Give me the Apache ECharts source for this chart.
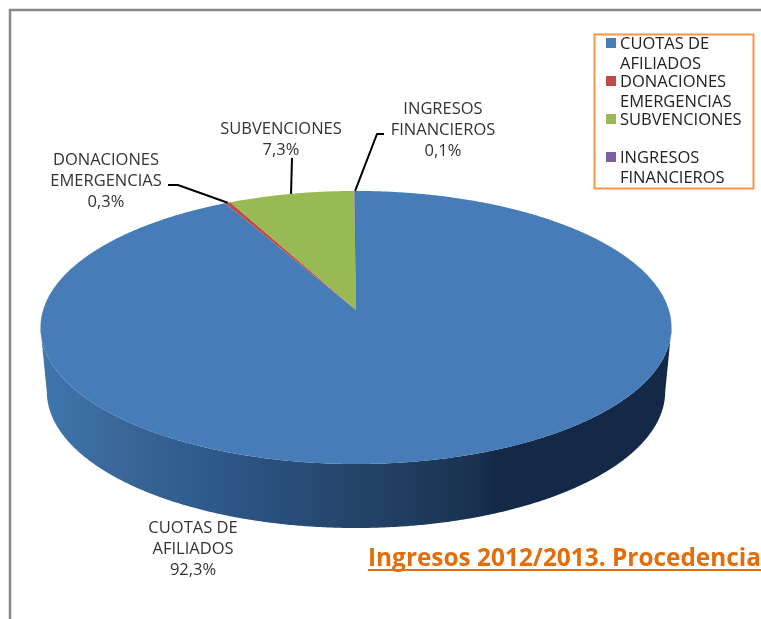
<!DOCTYPE html>
<html>
<head>
<meta charset="utf-8">
<title>Ingresos 2012/2013</title>
<script src="https://cdn.jsdelivr.net/npm/echarts@6/dist/echarts.min.js"></script>
<style>
html, body { margin: 0; padding: 0; background: #fff; overflow: hidden; }
#main { width: 761px; height: 619px; }
</style>
</head>
<body>
<div id="main"></div>
<script>
// datos (orden horario desde las 12)
var categories = ['CUOTAS DE\nAFILIADOS', 'DONACIONES\nEMERGENCIAS', 'SUBVENCIONES', 'INGRESOS\nFINANCIEROS'];
var values = [92.3, 0.3, 7.3, 0.1];
var colors = ['#467db8', '#be4b48', '#98b954', '#7d5fa0'];

var chartTitle = 'Ingresos 2012/2013. Procedencia';
var FONT = 'Open Sans';

// geometria de la tarta en perspectiva
var cx = 356, apexY = 310, A = 312.9, B = 134.3, k = 0.128;
var depth = 64, bottomScale = 0.98;
var silhouetteY = apexY + (B / (1 - k) - B / (1 + k)) / 2;

// posicion de etiquetas y lineas guia, por categoria
var labelPos = [[193, 549], [106, 181], [281, 140], [443, 130]];
var leaders = [
    null,
    [[168, 185], [178, 185]],
    [[292, 158]],
    [[384, 134], [377, 134]]
];

function rimPoint(pct) {
    var t = 2 * Math.PI * pct / 100;
    var w = 1 + k * Math.cos(t);
    return [cx + A * Math.sin(t) / w, apexY - B * Math.cos(t) / w];
}

function fmtPct(v) {
    return v.toFixed(1).replace('.', ',') + '%';
}

var sideGradient = new echarts.graphic.LinearGradient(0, 0, 1, 0, [
    { offset: 0, color: '#3d77ae' },
    { offset: 0.13, color: '#3b6698' },
    { offset: 0.25, color: '#2e5c8c' },
    { offset: 0.38, color: '#2a4e7b' },
    { offset: 0.5, color: '#244468' },
    { offset: 0.6, color: '#1d3b5c' },
    { offset: 0.69, color: '#1a3150' },
    { offset: 0.72, color: '#132947' },
    { offset: 1, color: '#132947' }
]);

function renderSlice(index, start, value) {
    var end = start + value;
    var rim = [];
    for (var p = start; p < end; p += 0.1) rim.push(rimPoint(p));
    rim.push(rimPoint(end));

    var children = [];

    // lateral: solo la parte delantera del borde
    var front = rim.filter(function (pt) { return pt[1] >= silhouetteY; });
    if (front.length > 1) {
        var lower = front.map(function (pt) {
            return [cx + (pt[0] - cx) * bottomScale, pt[1] + depth];
        }).reverse();
        children.push({
            type: 'polygon',
            shape: { points: front.concat(lower) },
            style: { fill: sideGradient }
        });
    }

    children.push({
        type: 'polygon',
        shape: { points: [[cx, apexY]].concat(rim) },
        style: { fill: colors[index] }
    });

    // linea guia hasta el punto medio del arco
    if (leaders[index]) {
        children.push({
            type: 'polyline',
            shape: { points: leaders[index].concat([rimPoint(start + value / 2)]) },
            style: { fill: null, stroke: '#000', lineWidth: 2 },
            z2: 5
        });
    }

    children.push({
        type: 'text',
        x: labelPos[index][0],
        y: labelPos[index][1],
        style: {
            text: categories[index] + '\n' + fmtPct(value),
            fill: '#333',
            font: '16.5px "' + FONT + '"',
            lineHeight: 21,
            align: 'center',
            verticalAlign: 'middle'
        },
        z2: 6
    });

    return { type: 'group', children: children };
}

var cumulative = 0;
var series = categories.map(function (name, i) {
    var start = cumulative;
    cumulative += values[i];
    return {
        type: 'custom',
        name: name,
        coordinateSystem: 'none',
        silent: true,
        animation: false,
        data: [[values[i]]],
        renderItem: function (params, api) {
            return renderSlice(i, start, api.value(0));
        }
    };
});

// leyenda: el cuadro va alineado a la primera linea de cada entrada
var legendRows = [38, 76, 114, 152];
var legendGraphic = [{
    type: 'rect',
    shape: { x: 594.5, y: 34.5, width: 159, height: 154 },
    style: { fill: '#fff', stroke: '#f79646', lineWidth: 2 }
}];
categories.forEach(function (name, i) {
    legendGraphic.push({
        type: 'rect',
        shape: { x: 606, y: legendRows[i], width: 10, height: 10 },
        style: { fill: colors[i] }
    });
    legendGraphic.push({
        type: 'text',
        x: 620,
        y: legendRows[i] - 4,
        style: {
            text: name,
            fill: '#222',
            font: '16.5px "' + FONT + '"',
            lineHeight: 20
        }
    });
});

var myChart = echarts.init(document.getElementById('main'), null, { renderer: 'canvas' });
myChart.setOption({
    backgroundColor: '#fff',
    animation: false,
    title: {
        text: chartTitle,
        left: 368,
        top: 547,
        padding: 0,
        textStyle: { color: '#e46c0a', fontFamily: FONT, fontWeight: 'bold', fontSize: 24.4 }
    },
    tooltip: { show: false },
    series: series,
    graphic: [
        {
            type: 'polyline',
            shape: { points: [[10, 619], [10, 10], [761, 10]] },
            style: { fill: null, stroke: '#888', lineWidth: 2.5 }
        },
        {
            type: 'line',
            shape: { x1: 368, y1: 570, x2: 761, y2: 570 },
            style: { stroke: '#e46c0a', lineWidth: 2 }
        }
    ].concat(legendGraphic)
});
</script>
</body>
</html>
